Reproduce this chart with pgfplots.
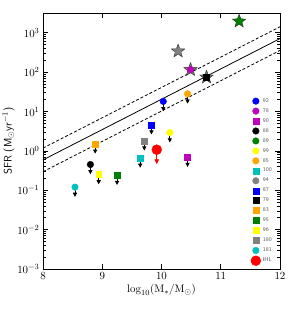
\documentclass[border=0pt]{standalone}
\usepackage{pgfplots}
\pgfplotsset{compat=1.18}
\definecolor{mplm}{rgb}{0.75,0,0.75}
\definecolor{mplg}{rgb}{0,0.5,0}
\definecolor{mplc}{rgb}{0,0.75,0.75}
\definecolor{orng}{RGB}{255,165,0}
\definecolor{yel}{RGB}{255,255,0}
\definecolor{gry}{RGB}{128,128,128}
\pgfdeclareplotmark{uarr}{%
  \pgfsetlinewidth{0.7pt}%
  \pgfpathmoveto{\pgfqpoint{0pt}{0pt}}\pgfpathlineto{\pgfqpoint{0pt}{-6pt}}\pgfusepathqstroke
  \pgfpathmoveto{\pgfqpoint{-1.6pt}{-6pt}}\pgfpathlineto{\pgfqpoint{1.6pt}{-6pt}}\pgfpathlineto{\pgfqpoint{0pt}{-9pt}}\pgfpathclose\pgfusepathqfillstroke}
\pgfdeclareplotmark{ihlarr}{%
  \pgfsetlinewidth{0.8pt}%
  \pgfpathmoveto{\pgfqpoint{0pt}{0pt}}\pgfpathlineto{\pgfqpoint{0pt}{-10pt}}\pgfusepathqstroke
  \pgfpathmoveto{\pgfqpoint{-1.8pt}{-10pt}}\pgfpathlineto{\pgfqpoint{1.8pt}{-10pt}}\pgfpathlineto{\pgfqpoint{0pt}{-13.5pt}}\pgfpathclose\pgfusepathqfillstroke}
\pgfdeclareplotmark{fstar}{%
  \pgfpathmoveto{\pgfpointpolar{90}{\pgfplotmarksize}}%
  \pgfpathlineto{\pgfpointpolar{126}{0.42\pgfplotmarksize}}%
  \pgfpathlineto{\pgfpointpolar{162}{\pgfplotmarksize}}%
  \pgfpathlineto{\pgfpointpolar{198}{0.42\pgfplotmarksize}}%
  \pgfpathlineto{\pgfpointpolar{234}{\pgfplotmarksize}}%
  \pgfpathlineto{\pgfpointpolar{270}{0.42\pgfplotmarksize}}%
  \pgfpathlineto{\pgfpointpolar{306}{\pgfplotmarksize}}%
  \pgfpathlineto{\pgfpointpolar{342}{0.42\pgfplotmarksize}}%
  \pgfpathlineto{\pgfpointpolar{18}{\pgfplotmarksize}}%
  \pgfpathlineto{\pgfpointpolar{54}{0.42\pgfplotmarksize}}%
  \pgfpathclose\pgfusepathqfillstroke}
\pgfplotstableread{
x y
10.03 18
10.44 0.69
8.80 0.45
10.14 2.9
10.44 28
9.64 0.66
9.83 4.6
8.88 1.5
9.25 0.24
8.94 0.25
9.71 1.8
8.54 0.12
}\ulims
\begin{document}
\begin{tikzpicture}
\useasboundingbox (-43bp,-42bp) rectangle (256bp,269bp);
\begin{axis}[
  scale only axis, width=237bp, height=256bp,
  ymode=log, xmin=8, xmax=12, ymin=1e-3, ymax=3162,
  xtick={8,9,10,11,12}, minor x tick num=0,
  ytick={1e-3,1e-2,1e-1,1,10,100,1000},
  tick align=inside, xtick pos=both, ytick pos=both,
  major tick length=5pt, minor tick length=3pt,
  axis line style={line width=0.9pt},
  tick style={black, line width=0.6pt},
  ticklabel style={font=\fontsize{11}{12}\selectfont},
  xlabel={$\log_{10}(\mathrm{M}_{*}/\mathrm{M}_{\odot})$},
  ylabel={\textsf{SFR (M}$_{\odot}$\textsf{yr}$^{-1}$\textsf{)}},
  label style={font=\fontsize{11}{12}\selectfont},
  xlabel style={yshift=2pt},
  ylabel style={yshift=-4pt},
  legend style={at={(0.975,0.012)}, anchor=south east, draw=none, fill=none,
    font=\fontsize{5.6}{6.5}\selectfont\sffamily, text=gray!70!black,
    row sep=0.7pt, inner sep=0pt},
  legend cell align=left,
]
% main sequence
\addplot[black, line width=0.8pt, forget plot] coordinates {(8,0.589) (12,707.9)};
\addplot[black, line width=0.8pt, dash pattern=on 3pt off 2pt, forget plot] coordinates {(8,1.175) (12,1412)};
\addplot[black, line width=0.8pt, dash pattern=on 3pt off 2pt, forget plot] coordinates {(8,0.295) (12,354.8)};
% stars
\addplot[only marks, mark=fstar, mark size=7pt, fill=gry, draw=gray!40!black, line width=0.5pt, forget plot]
  coordinates {(10.28,340) (10.49,115) (10.76,74)};
\addplot[only marks, mark=fstar, mark size=7pt, fill=mplg, draw=gray!40!black, line width=0.5pt, forget plot]
  coordinates {(11.31,1950)};
% upper-limit arrows
\addplot[only marks, mark=uarr, black, forget plot] table {\ulims};
\addplot[only marks, mark=ihlarr, red, forget plot] coordinates {(9.92,1.07)};
% data
\addplot[only marks, mark=*, mark size=3.3pt, blue] coordinates {(10.03,18)};
\addlegendentry{92}
\addplot[only marks, mark=*, mark size=3.3pt, mplm] coordinates {(10.49,115)};
\addlegendentry{78}
\addplot[only marks, mark=square*, mark size=3pt, mplm] coordinates {(10.44,0.69)};
\addlegendentry{90}
\addplot[only marks, mark=*, mark size=3.3pt, black] coordinates {(8.80,0.45)};
\addlegendentry{88}
\addplot[only marks, mark=*, mark size=3.3pt, mplg] coordinates {(11.31,1950)};
\addlegendentry{89}
\addplot[only marks, mark=*, mark size=3.3pt, yel] coordinates {(10.14,2.9)};
\addlegendentry{99}
\addplot[only marks, mark=*, mark size=3.3pt, orng] coordinates {(10.44,28)};
\addlegendentry{85}
\addplot[only marks, mark=square*, mark size=3pt, mplc] coordinates {(9.64,0.66)};
\addlegendentry{100}
\addplot[only marks, mark=*, mark size=3.3pt, gry] coordinates {(10.28,340)};
\addlegendentry{94}
\addplot[only marks, mark=square*, mark size=3pt, blue] coordinates {(9.83,4.6)};
\addlegendentry{87}
\addplot[only marks, mark=square*, mark size=3pt, black] coordinates {(10.76,74)};
\addlegendentry{79}
\addplot[only marks, mark=square*, mark size=3pt, orng] coordinates {(8.88,1.5)};
\addlegendentry{83}
\addplot[only marks, mark=square*, mark size=3pt, mplg] coordinates {(9.25,0.24)};
\addlegendentry{95}
\addplot[only marks, mark=square*, mark size=3pt, yel] coordinates {(8.94,0.25)};
\addlegendentry{96}
\addplot[only marks, mark=square*, mark size=3pt, gry] coordinates {(9.71,1.8)};
\addlegendentry{180}
\addplot[only marks, mark=*, mark size=3.3pt, mplc] coordinates {(8.54,0.12)};
\addlegendentry{181}
\addplot[only marks, mark=*, mark size=5pt, red] coordinates {(9.92,1.07)};
\addlegendentry{IHL}
\end{axis}
\end{tikzpicture}
\end{document}
